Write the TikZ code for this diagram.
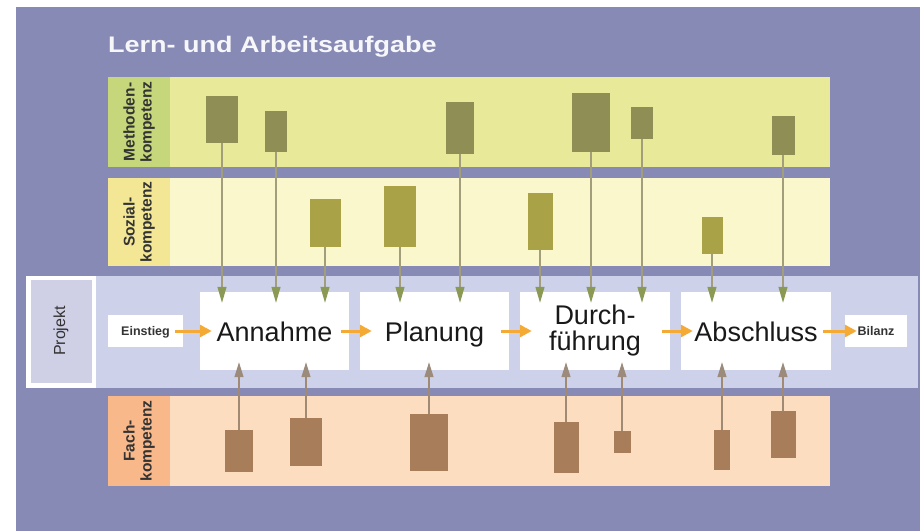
\documentclass[tikz,border=0pt]{standalone}
\usepackage{fontspec}
\setmainfont{Liberation Sans}
\newfontfamily\titlefont[FakeStretch=1.2]{Liberation Sans}
\usepackage{tikz}
\usetikzlibrary{arrows.meta,shapes}
\definecolor{lila}{HTML}{868AB5}
\definecolor{projband}{HTML}{CDD1EA}
\definecolor{projbox}{HTML}{CFD0E6}
\definecolor{methband}{HTML}{E8EA9A}
\definecolor{methleiste}{HTML}{C5D77A}
\definecolor{sozband}{HTML}{FBF7CC}
\definecolor{sozleiste}{HTML}{F3E796}
\definecolor{fachband}{HTML}{FDDDC0}
\definecolor{fachleiste}{HTML}{F8B88A}
\definecolor{methbalken}{HTML}{8E8E55}
\definecolor{sozbalken}{HTML}{A9A246}
\definecolor{fachbalken}{HTML}{A87D5A}
\definecolor{pfeilorange}{HTML}{F5AA35}
\definecolor{linieoben}{HTML}{A29E7C}
\definecolor{spitzeoben}{HTML}{8A9A55}
\definecolor{linieunten}{HTML}{A08A74}
\definecolor{spitzeunten}{HTML}{9C8B7B}
\definecolor{textgrau}{HTML}{333333}
\tikzstyle{phase}=[rectangle,fill=white,minimum width=149,minimum height=78,inner sep=0pt,align=center,text height=26pt,text depth=6pt,text=black!90,font=\fontsize{27}{26}\selectfont]
\tikzstyle{rand}=[rectangle,fill=white,minimum height=32,inner sep=0pt,text height=11pt,text depth=2pt,text=textgrau,font=\bfseries\fontsize{12.5}{14}\selectfont]
\tikzstyle{kompetenz}=[rotate=90,align=center,text=textgrau,font=\bfseries\fontsize{15.5}{17}\selectfont]
\tikzstyle{mbar}=[rectangle,fill=methbalken,inner sep=0pt]
\tikzstyle{sbar}=[rectangle,fill=sozbalken,inner sep=0pt]
\tikzstyle{fbar}=[rectangle,fill=fachbalken,inner sep=0pt]
\tikzstyle{runter}=[draw=linieoben,line width=1.2pt,-{Triangle[length=16pt,width=9pt,color=spitzeoben]},shorten >=-11pt]
\tikzstyle{hoch}=[draw=linieunten,line width=1.2pt,-{Triangle[length=15pt,width=9pt,color=spitzeunten]},shorten >=-8pt]
\tikzstyle{fluss}=[draw=pfeilorange,line width=3pt,-{Triangle[length=12pt,width=12pt]},shorten <=-8pt,shorten >=-12pt]

\begin{document}
\begin{tikzpicture}[x=1pt,y=-1pt]
        \useasboundingbox (0,0) rectangle (920,531);
        \fill[white] (0,0) rectangle (920,531);
        \fill[lila] (16,7) rectangle (920,531);
        \node[anchor=base west,inner sep=0pt,text=white!93!lila,font=\titlefont\bfseries\fontsize{22.5}{24}\selectfont] (titel) at (108,52) {Lern- und Arbeitsaufgabe};
        % Baender
        \fill[methband] (108,77) rectangle (830,167);
        \fill[methleiste] (108,77) rectangle (170,167);
        \fill[sozband] (108,178) rectangle (830,266);
        \fill[sozleiste] (108,178) rectangle (170,266);
        \fill[projband] (27,276) rectangle (918,388);
        \fill[white] (26,276) rectangle (96,388);
        \fill[projbox] (31,280) rectangle (92,383);
        \fill[fachband] (108,396) rectangle (830,486);
        \fill[fachleiste] (108,396) rectangle (170,486);
        \node[kompetenz] (methode) at (139,122) {Methoden-\\kompetenz};
        \node[kompetenz] (sozial) at (139,222) {Sozial-\\kompetenz};
        \node[kompetenz] (fach) at (139,441) {Fach-\\kompetenz};
        \node[rotate=90,text=textgrau,font=\fontsize{16}{18}\selectfont] (projekt) at (61,331) {Projekt};
        % Balken
        \node[mbar,minimum width=32,minimum height=47] (m1) at (222,119.5) {};
        \node[mbar,minimum width=22,minimum height=41] (m2) at (276,131.5) {};
        \node[mbar,minimum width=28,minimum height=52] (m3) at (460,128) {};
        \node[mbar,minimum width=38,minimum height=59] (m4) at (591,122.5) {};
        \node[mbar,minimum width=22,minimum height=32] (m5) at (642,123) {};
        \node[mbar,minimum width=23,minimum height=39] (m6) at (783,135.5) {};
        \node[sbar,minimum width=31,minimum height=48] (s1) at (325,223) {};
        \node[sbar,minimum width=32,minimum height=61] (s2) at (400,216.5) {};
        \node[sbar,minimum width=25,minimum height=57] (s3) at (540,221.5) {};
        \node[sbar,minimum width=21,minimum height=37] (s4) at (712,235.5) {};
        \node[fbar,minimum width=28,minimum height=42] (f1) at (239,451) {};
        \node[fbar,minimum width=32,minimum height=48] (f2) at (306,442) {};
        \node[fbar,minimum width=38,minimum height=57] (f3) at (429,442.5) {};
        \node[fbar,minimum width=25,minimum height=51] (f4) at (566,447.5) {};
        \node[fbar,minimum width=17,minimum height=22] (f5) at (622,442) {};
        \node[fbar,minimum width=16,minimum height=40] (f6) at (722,450) {};
        \node[fbar,minimum width=25,minimum height=47] (f7) at (783,434.5) {};
        % Phasen
        \node[rand,minimum width=75] (einstieg) at (145.5,331) {Einstieg};
        \node[phase] (annahme) at (274.5,331) {Annahme};
        \node[phase] (planung) at (434.5,331) {Planung};
        \node[phase,minimum width=150,text height=,text depth=] (durch) at (595,331) {Durch-\\führung};
        \node[phase,minimum width=150] (abschluss) at (756,331) {Abschluss};
        \node[rand,minimum width=62] (bilanz) at (876,331) {Bilanz};
        \draw[runter] (m1.south) -- (m1.south |- annahme.north);
        \draw[runter] (m2.south) -- (m2.south |- annahme.north);
        \draw[runter] (s1.south) -- (s1.south |- annahme.north);
        \draw[runter] (s2.south) -- (s2.south |- planung.north);
        \draw[runter] (m3.south) -- (m3.south |- planung.north);
        \draw[runter] (s3.south) -- (s3.south |- durch.north);
        \draw[runter] (m4.south) -- (m4.south |- durch.north);
        \draw[runter] (m5.south) -- (m5.south |- durch.north);
        \draw[runter] (s4.south) -- (s4.south |- abschluss.north);
        \draw[runter] (m6.south) -- (m6.south |- abschluss.north);
        \draw[hoch] (f1.north) -- (f1.north |- annahme.south);
        \draw[hoch] (f2.north) -- (f2.north |- annahme.south);
        \draw[hoch] (f3.north) -- (f3.north |- planung.south);
        \draw[hoch] (f4.north) -- (f4.north |- durch.south);
        \draw[hoch] (f5.north) -- (f5.north |- durch.south);
        \draw[hoch] (f6.north) -- (f6.north |- abschluss.south);
        \draw[hoch] (f7.north) -- (f7.north |- abschluss.south);
        \draw[fluss] (einstieg) -- (annahme);
        \draw[fluss] (annahme) -- (planung);
        \draw[fluss] (planung) -- (durch);
        \draw[fluss] (durch) -- (abschluss);
        \draw[fluss] (abschluss) -- (bilanz);
      \end{tikzpicture}
\end{document}
